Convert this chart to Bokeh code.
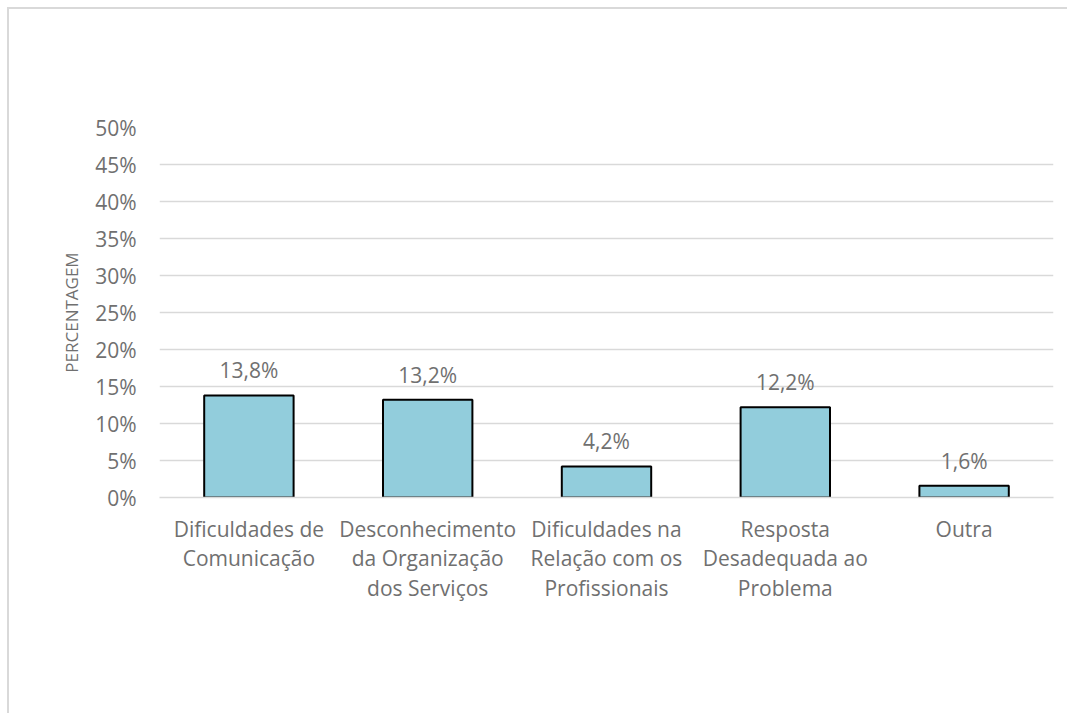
import math
from bokeh.plotting import figure
from bokeh.models import Range1d, FixedTicker, NumeralTickFormatter, ColumnDataSource
from bokeh.core.properties import value
from bokeh.embed import file_html
from bokeh.resources import INLINE

categories = [
    "Dificuldades de\nComunicação",
    "Desconhecimento\nda Organização\ndos Serviços",
    "Dificuldades na\nRelação com os\nProfissionais",
    "Resposta\nDesadequada ao\nProblema",
    "Outra",
]
values = [0.138, 0.132, 0.042, 0.122, 0.016]
value_labels = ["13,8%", "13,2%", "4,2%", "12,2%", "1,6%"]
y_ticks = [0, 0.05, 0.10, 0.15, 0.20, 0.25, 0.30, 0.35, 0.40, 0.45, 0.50]
y_title = "PERCENTAGEM"

FONT = "Open Sans"
TXT = "#707070"
FS = "21px"

p = figure(
    x_range=categories,
    y_range=Range1d(0, 0.5),
    width=1060, height=706,
    output_backend="svg", toolbar_location=None,
    min_border_left=150, min_border_right=16,
    min_border_top=118, min_border_bottom=218,
)
p.styles = {"border-top": "2px solid #d9d9d9", "border-left": "2px solid #d9d9d9",
            "margin-left": "7px", "margin-top": "7px"}
p.outline_line_color = None

src = ColumnDataSource(dict(cat=categories, val=values, lab=value_labels))
p.vbar(x="cat", top="val", width=0.5, source=src,
       fill_color="#92CDDC", line_color="black", line_width=2)
p.text(x="cat", y="val", text="lab", source=src, text_align="center",
       text_baseline="alphabetic", y_offset=-25, text_color=TXT,
       text_font=value(FONT), text_font_size=FS)

p.xgrid.grid_line_color = None
p.ygrid.grid_line_color = "#d9d9d9"
p.ygrid.grid_line_width = 1.5
p.ygrid.ticker = FixedTicker(ticks=y_ticks)

p.yaxis.ticker = FixedTicker(ticks=y_ticks)
p.yaxis.formatter = NumeralTickFormatter(format="0%")
p.yaxis.axis_line_color = None
p.yaxis.major_tick_line_color = None
p.yaxis.minor_tick_line_color = None
p.yaxis.major_tick_out = 0
p.yaxis.major_label_standoff = 23
p.yaxis.major_label_text_font = FONT
p.yaxis.major_label_text_font_size = FS
p.yaxis.major_label_text_color = TXT
p.yaxis.axis_label = y_title
p.yaxis.axis_label_standoff = 9
p.yaxis.axis_label_text_font = FONT
p.yaxis.axis_label_text_font_size = "17px"
p.yaxis.axis_label_text_font_style = "normal"
p.yaxis.axis_label_text_color = TXT

p.xaxis.axis_line_color = "#d9d9d9"
p.xaxis.axis_line_width = 1.5
p.xaxis.major_tick_line_color = None
p.xaxis.major_tick_out = 0
p.xaxis.major_label_standoff = 17
p.xaxis.major_label_text_font = FONT
p.xaxis.major_label_text_font_size = FS
p.xaxis.major_label_text_color = TXT
p.xaxis.major_label_text_line_height = 1.07

open("out.html", "w").write(file_html(p, INLINE))
